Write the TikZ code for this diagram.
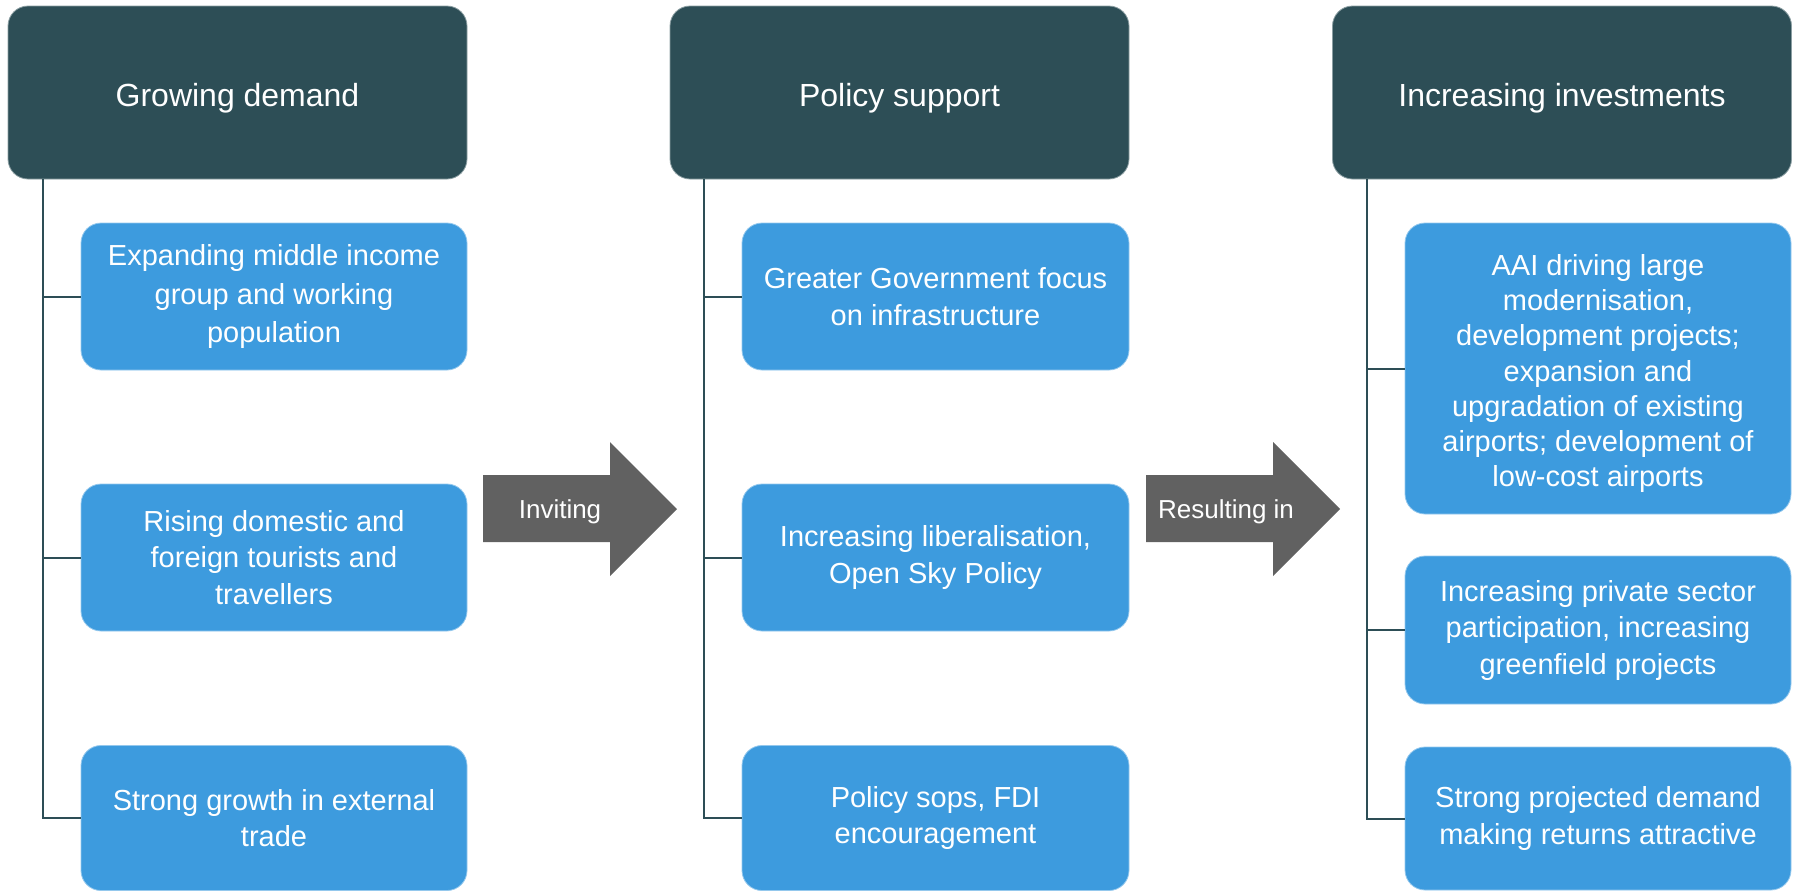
\documentclass[tikz,border=0pt]{standalone}
\usepackage{fontspec}
\setmainfont{Liberation Sans}
\definecolor{hdrc}{HTML}{2D4E56}
\definecolor{itemc}{HTML}{3D9BDE}
\definecolor{arrc}{HTML}{616161}
\tikzset{
  hdr/.style={fill=hdrc, draw=hdrc!55!white, line width=0.8pt, rounded corners=20pt,
    minimum width=459pt, minimum height=173pt, inner sep=0pt, text=white,
    font=\fontsize{32}{38}\selectfont, text height=28pt, text depth=0pt},
  item/.style={fill=itemc, draw=itemc!55!white, line width=0.8pt, rounded corners=20pt,
    minimum width=386pt, minimum height=147pt, inner sep=0pt, text=white, align=center,
    font=\fontsize{29}{36.5}\selectfont},
  conn/.style={draw=hdrc, line width=2pt},
  blockarrow/.style={fill=arrc},
  arrlbl/.style={text=white, font=\fontsize{26}{30}\selectfont, inner sep=0pt,
    text height=18.6pt, text depth=0pt}
}
\begin{document}
\begin{tikzpicture}[x=1pt,y=-1pt]
\useasboundingbox (0,0) rectangle (1799,892);
% headers
\node[hdr] (h1) at (237.5,92.5) {Growing demand};
\node[hdr] (h2) at (899.5,92.5) {Policy support};
\node[hdr] (h3) at (1562,92.5) {Increasing investments};
% column 1
\node[item, font=\fontsize{29}{38.4}\selectfont] (a1) at (274,296.5) {Expanding middle income\\group and working\\population};
\node[item] (a2) at (274,557.5) {Rising domestic and\\foreign tourists and\\travellers};
\node[item, minimum height=145pt] (a3) at (274,818) {Strong growth in external\\trade};
% column 2
\node[item, minimum width=387pt] (b1) at (935.5,296.5) {Greater Government focus\\on infrastructure};
\node[item, minimum width=387pt] (b2) at (935.5,557.5) {Increasing liberalisation,\\Open Sky Policy};
\node[item, minimum width=387pt, minimum height=145pt] (b3) at (935.5,818) {Policy sops, FDI\\encouragement};
% column 3
\node[item, minimum height=291pt, font=\fontsize{29}{35.3}\selectfont] (c1) at (1598,368.5) {\rule{0pt}{31pt}AAI driving large\\modernisation,\\development projects;\\expansion and\\upgradation of existing\\airports; development of\\low-cost airports};
\node[item, minimum height=148pt] (c2) at (1598,630) {Increasing private sector\\participation, increasing\\greenfield projects};
\node[item, minimum height=143pt] (c3) at (1598,818.5) {Strong projected demand\\making returns attractive};
% trunks
\coordinate (t1) at ([xshift=35pt]h1.south west);
\coordinate (t2) at ([xshift=34pt]h2.south west);
\coordinate (t3) at ([xshift=35pt]h3.south west);
\draw[conn] (t1) |- (a3.west);
\draw[conn] (a1.west) -- (a1.west -| t1);
\draw[conn] (a2.west) -- (a2.west -| t1);
\draw[conn] (t2) |- (b3.west);
\draw[conn] (b1.west) -- (b1.west -| t2);
\draw[conn] (b2.west) -- (b2.west -| t2);
\draw[conn] (t3) |- (c3.west);
\draw[conn] (c1.west) -- (c1.west -| t3);
\draw[conn] (c2.west) -- (c2.west -| t3);
% block arrows
\fill[blockarrow] (483,475) -- (610,475) -- (610,442) -- (677,509) -- (610,576) -- (610,542) -- (483,542) -- cycle;
\node[arrlbl] (l1) at (560,509) {Inviting};
\fill[blockarrow] (1146,475) -- (1273,475) -- (1273,442) -- (1340,509) -- (1273,576) -- (1273,542) -- (1146,542) -- cycle;
\node[arrlbl] (l2) at (1226,509) {Resulting in};
\end{tikzpicture}
\end{document}
